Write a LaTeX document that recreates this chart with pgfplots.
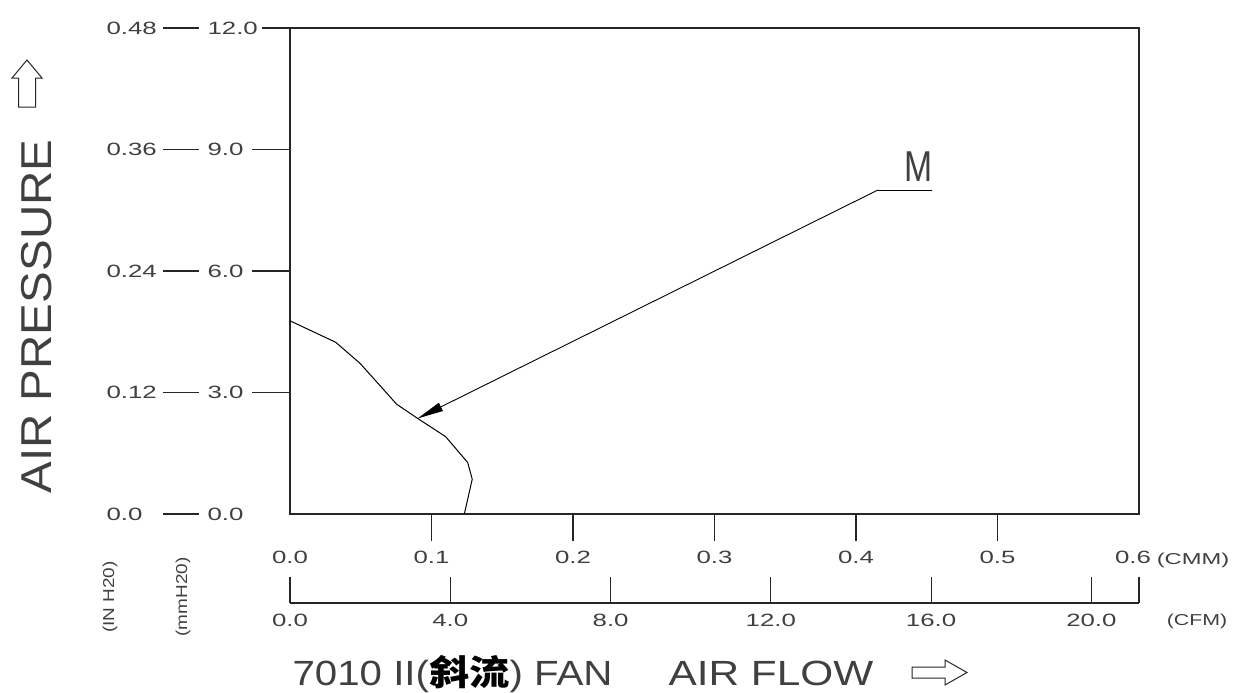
\documentclass[border=0pt]{standalone}
\usepackage{fontspec}
\setmainfont{Liberation Sans}
\newfontfamily\cjk{Noto Sans CJK SC}
\usepackage{graphicx}
\usepackage{pgfplots}
\pgfplotsset{compat=1.18}
\usetikzlibrary{arrows.meta}

% small CAD-like labels: wide letters
\newcommand{\tl}[1]{\scalebox{1.45}[1]{\fontsize{8.9}{10}\selectfont #1}}
\newcommand{\ulab}[2]{\scalebox{#1}[1]{\fontsize{7.9}{9}\selectfont #2}}

\begin{document}
\begin{tikzpicture}
\begin{axis}[
    at={(145pt,-257pt)}, anchor=south west,
    scale only axis, width=424.5pt, height=243pt,
    xmin=0, xmax=0.6, ymin=0, ymax=12,
    axis line style={line width=0.7pt, black!85},
    xtick=\empty, ytick=\empty,
    clip=false,
]
% fan curve (CMM, mmH2O)
\addplot[black, line width=0.5pt] coordinates {
    (0,4.77) (0.0323,4.24) (0.0495,3.72) (0.0754,2.71) (0.0902,2.36)
    (0.110,1.91) (0.1256,1.27) (0.1288,0.86) (0.1232,0)
};
% leader to the curve
\draw[line width=0.45pt, -{Triangle[length=13pt,width=4.5pt]}]
    (axis cs:0.4155,8.0) -- (axis cs:0.0902,2.36);
\draw[line width=0.45pt] (axis cs:0.4155,8.0) -- (axis cs:0.4537,8.0);
\node[anchor=base, inner sep=0, text=black!75] at (axis cs:0.4445,8.2)
    {\scalebox{0.78}[1]{\fontsize{21.6}{24}\selectfont M}};
\end{axis}

% everything else in pixel units of the reference
\begin{scope}[x=0.5pt, y=-0.5pt, line width=0.6pt, draw=black!85,
              every node/.style={text=black!75}]
\path (0,0) rectangle (1239,691);

% pressure scales
\foreach \yy/\a/\b/\e in {28/0.48/12.0/262, 149.5/0.36/9.0/252, 271/0.24/6.0/252, 392.5/0.12/3.0/252}{
    \node[anchor=west, inner sep=0] at (106,\yy) {\tl{\a}};
    \draw (163,\yy) -- (199,\yy);
    \node[anchor=west, inner sep=0] at (207,\yy) {\tl{\b}};
    \draw (\e,\yy) -- (290,\yy);
}
\node[anchor=west, inner sep=0] at (106,514) {\tl{0.0}};
\draw (163,514) -- (199,514);
\node[anchor=west, inner sep=0] at (207,514) {\tl{0.0}};

% CMM ticks and labels
\foreach \xx in {431.5,573,714.5,856,997.5}{
    \draw (\xx,514) -- (\xx,541);
}
\foreach \xx/\lab in {290/0.0, 431.5/0.1, 573/0.2, 714.5/0.3, 856/0.4, 997.5/0.5, 1133/0.6}{
    \node[inner sep=0] at (\xx,557) {\tl{\lab}};
}
\node[anchor=base, inner sep=0] at (1193,564) {\ulab{1.5}{(CMM)}};

% CFM scale
\draw (290,603) -- (1139,603);
\foreach \xx in {290,450.3,610.6,770.8,931.1,1091.4,1139}{
    \draw (\xx,577) -- (\xx,603);
}
\foreach \xx/\lab in {290/0.0, 450.3/4.0, 610.6/8.0, 770.8/12.0, 931.1/16.0, 1091.4/20.0}{
    \node[inner sep=0] at (\xx,620) {\tl{\lab}};
}
\node[anchor=base, inner sep=0] at (1197,625) {\ulab{1.35}{(CFM)}};

% unit labels
\node[rotate=90, inner sep=0] at (110,597) {\ulab{1.2}{(IN H20)}};
\node[rotate=90, inner sep=0] at (183,597) {\ulab{1.2}{(mmH20)}};

% axis titles
\node[rotate=90, inner sep=0] at (36.5,316.5)
    {\scalebox{1.1}[1]{\fontsize{21.6}{24}\selectfont AIR PRESSURE}};
\draw[line width=0.5pt] (18.5,107) -- (18.5,78) -- (12,78) -- (27,60) -- (42,78)
    -- (35.5,78) -- (35.5,107) -- cycle;

\node[anchor=base west, inner sep=0] at (292,685)
    {\scalebox{1.15}[1]{\fontsize{17.5}{20}\selectfont 7010 II({\cjk\bfseries\color{black} 斜流}) FAN}};
\node[anchor=base west, inner sep=0] at (668,685)
    {\scalebox{1.21}[1]{\fontsize{17.5}{20}\selectfont AIR FLOW}};
\draw[line width=0.5pt] (912,667) -- (945,667) -- (945,660) -- (967,672.5) -- (945,685)
    -- (945,678) -- (912,678) -- cycle;
\end{scope}
\end{tikzpicture}
\end{document}
